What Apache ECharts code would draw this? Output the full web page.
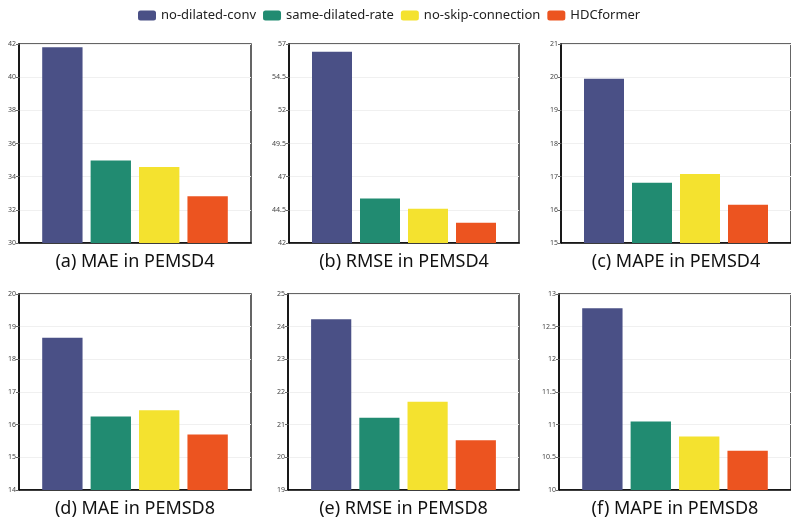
<!DOCTYPE html>
<html>
<head>
<meta charset="utf-8">
<script src="https://cdn.jsdelivr.net/npm/echarts@6/dist/echarts.min.js"></script>
<style>html,body{margin:0;padding:0;background:#fff;}#c{width:791px;height:519px;}</style>
</head>
<body>
<div id="c"></div>
<script>
const methods = ['no-dilated-conv', 'same-dilated-rate', 'no-skip-connection', 'HDCformer'];
const colors = ['#4a5086', '#218b71', '#f4e22f', '#ec5420'];

const maePEMSD4 = [41.8, 34.98, 34.58, 32.82];
const rmsePEMSD4 = [56.42, 45.35, 44.59, 43.53];
const mapePEMSD4 = [19.95, 16.82, 17.08, 16.15];
const maePEMSD8 = [18.66, 16.25, 16.44, 15.70];
const rmsePEMSD8 = [24.23, 21.21, 21.70, 20.52];
const mapePEMSD8 = [12.78, 11.05, 10.82, 10.60];

const panelTitles = ['(a) MAE in PEMSD4', '(b) RMSE in PEMSD4', '(c) MAPE in PEMSD4',
                     '(d) MAE in PEMSD8', '(e) RMSE in PEMSD8', '(f) MAPE in PEMSD8'];
const yMins = [30, 42, 15, 14, 19, 10];
const yMaxs = [42, 57, 21, 20, 25, 13];
const yIntervals = [2, 2.5, 1, 1, 1, 0.5];

const panelData = [maePEMSD4, rmsePEMSD4, mapePEMSD4, maePEMSD8, rmsePEMSD8, mapePEMSD8];

const gridBoxes = [
  {left: 19, top: 44, width: 232, height: 199},
  {left: 289, top: 44, width: 230, height: 199},
  {left: 561, top: 44, width: 231, height: 199},
  {left: 19, top: 294, width: 232, height: 199},
  {left: 288, top: 294, width: 231, height: 199},
  {left: 559, top: 294, width: 232, height: 199}
];

const font = 'Noto Sans';
const grids = [], xAxes = [], yAxes = [], series = [];
for (let p = 0; p < 6; p++) {
  grids.push(Object.assign({show: true, borderColor: '#333', borderWidth: 1.5, backgroundColor: 'transparent', containLabel: false}, gridBoxes[p]));
  xAxes.push({
    type: 'category', gridIndex: p, data: [''],
    name: panelTitles[p], nameLocation: 'middle', nameGap: 10,
    nameTextStyle: {fontFamily: font, fontSize: 18, color: '#111'},
    axisLine: {show: true, lineStyle: {color: '#000', width: 1.5}},
    axisTick: {show: false}, axisLabel: {show: false}
  });
  yAxes.push({
    type: 'value', gridIndex: p, min: yMins[p], max: yMaxs[p], interval: yIntervals[p],
    axisLine: {show: true, lineStyle: {color: '#000', width: 1.5}},
    axisTick: {show: true, length: 3, lineStyle: {color: '#666'}},
    axisLabel: {fontFamily: font, fontSize: 7, color: '#444', margin: 3},
    splitLine: {show: true, lineStyle: {color: '#f0f0f0'}}
  });
  for (let m = 0; m < methods.length; m++) {
    series.push({
      type: 'bar', name: methods[m], xAxisIndex: p, yAxisIndex: p,
      data: [panelData[p][m]], itemStyle: {color: colors[m]},
      barGap: '20%', barCategoryGap: '20%'
    });
  }
}

const chart = echarts.init(document.getElementById('c'), null, {renderer: 'canvas'});
chart.setOption({
  animation: false,
  color: colors,
  legend: {
    data: methods, top: 4, left: 133, itemWidth: 18, itemHeight: 10, itemGap: 7,
    textStyle: {fontFamily: font, fontSize: 13, color: '#222'}
  },
  grid: grids, xAxis: xAxes, yAxis: yAxes, series: series
});
</script>
</body>
</html>
